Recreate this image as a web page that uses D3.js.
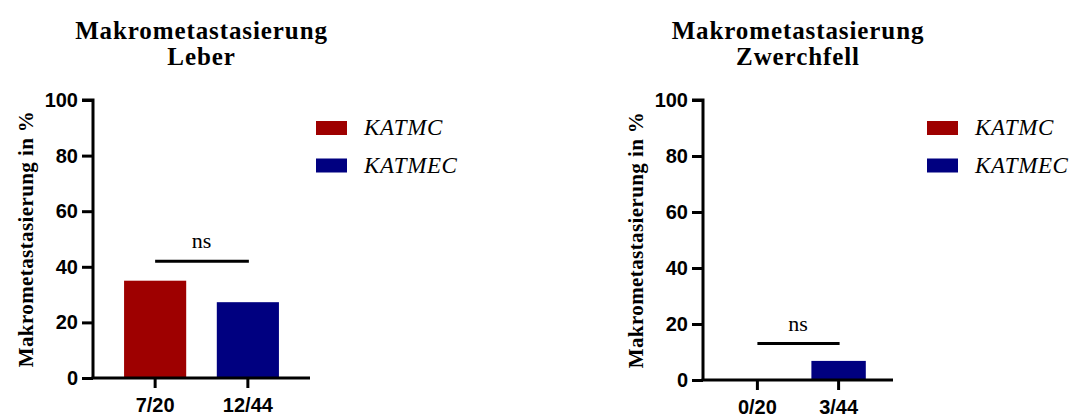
<!DOCTYPE html>
<html>
<head>
<meta charset="utf-8">
<script src="https://cdn.jsdelivr.net/npm/d3@7"></script>
<style>
  html, body { margin: 0; padding: 0; background: #fff; }
  svg { display: block; }
</style>
</head>
<body>
<svg id="chart" width="1075" height="417"></svg>
<script>
// Data
const groups = ["KATMC", "KATMEC"];
const leberLabels = ["7/20", "12/44"];
const leberValues = [35, 27.27];
const zwerchfellLabels = ["0/20", "3/44"];
const zwerchfellValues = [0, 6.82];
const yTicks = [0, 20, 40, 60, 80, 100];
const sigLabel = "ns";
const leberSigLevel = 42;
const zwerchfellSigLevel = 13;
const colors = ["#9e0000", "#000080"];

const svg = d3.select("#chart");
svg.append("rect").attr("width", 1075).attr("height", 417).attr("fill", "#fff");

const serif = "'Liberation Serif', 'Times New Roman', serif";
const sans = "'Liberation Sans', Arial, sans-serif";

function panel(opt) {
  const g = svg.append("g");
  const x = d3.scaleBand()
    .domain(opt.labels)
    .range([opt.x0, opt.x1])
    .paddingInner(0.33)
    .paddingOuter(0.335);
  const y = d3.scaleLinear().domain([0, 100]).range([opt.yZero, 100]);

  // bars
  g.selectAll("rect.bar")
    .data(opt.values)
    .join("rect")
    .attr("class", "bar")
    .attr("x", (d, i) => x(opt.labels[i]))
    .attr("width", x.bandwidth())
    .attr("y", d => y(d))
    .attr("height", d => y(0) - y(d))
    .attr("fill", (d, i) => colors[i]);

  // y axis
  const ya = g.append("g")
    .attr("transform", `translate(${opt.x0},0)`)
    .call(d3.axisLeft(y).tickValues(yTicks).tickSize(11).tickPadding(4));
  ya.select(".domain").attr("stroke", "#000").attr("stroke-width", 3)
    .attr("d", `M-11,${y(100)}H0V${y(0)}`);
  ya.selectAll(".tick line").attr("stroke", "#000").attr("stroke-width", 3);
  ya.selectAll(".tick text")
    .attr("fill", "#000")
    .style("font-family", sans).style("font-weight", "bold").style("font-size", "20px");

  // x axis
  const xa = g.append("g")
    .attr("transform", `translate(0,${opt.yZero})`)
    .call(d3.axisBottom(x).tickSize(10).tickPadding(10).tickSizeOuter(0));
  xa.select(".domain").attr("stroke", "#000").attr("stroke-width", 3)
    .attr("d", `M${opt.x0 - 1.5},0H${opt.x1}`);
  xa.selectAll(".tick line").attr("stroke", "#000").attr("stroke-width", 3);
  xa.selectAll(".tick text")
    .attr("fill", "#000")
    .style("font-family", sans).style("font-weight", "bold").style("font-size", "20px");

  // significance bracket
  const cx0 = x(opt.labels[0]) + x.bandwidth() / 2;
  const cx1 = x(opt.labels[1]) + x.bandwidth() / 2;
  g.append("line")
    .attr("x1", cx0).attr("x2", cx1 + 1)
    .attr("y1", y(opt.sig)).attr("y2", y(opt.sig))
    .attr("stroke", "#000").attr("stroke-width", 3);
  g.append("text")
    .attr("x", (cx0 + cx1) / 2)
    .attr("y", y(opt.sig) - 13)
    .attr("text-anchor", "middle")
    .style("font-family", serif).style("font-size", "22px")
    .text(sigLabel);

  // title
  const t = g.append("text")
    .attr("x", (opt.x0 + opt.x1) / 2)
    .attr("text-anchor", "middle")
    .style("font-family", serif).style("font-weight", "bold")
    .style("font-size", "25px").style("letter-spacing", "0.9px");
  t.append("tspan").attr("x", (opt.x0 + opt.x1) / 2).attr("y", 39).text("Makrometastasierung");
  t.append("tspan").attr("x", (opt.x0 + opt.x1) / 2).attr("y", 65).text(opt.title);

  // y axis title
  g.append("text")
    .attr("transform", `translate(${opt.x0 - 60},${(y(0) + y(100)) / 2}) rotate(-90)`)
    .attr("text-anchor", "middle")
    .style("font-family", serif).style("font-weight", "bold")
    .style("font-size", "21px").style("letter-spacing", "0.4px")
    .text("Makrometastasierung in %");

  // legend
  const lg = g.append("g").attr("transform", `translate(${opt.legendX},0)`);
  groups.forEach((name, i) => {
    const yy = 121 + i * 37.5;
    lg.append("rect")
      .attr("x", 0).attr("y", yy).attr("width", 31).attr("height", 14)
      .attr("fill", colors[i]);
    lg.append("text")
      .attr("x", 48).attr("y", yy + 14)
      .style("font-family", serif).style("font-style", "italic")
      .style("font-size", "23px").style("letter-spacing", "0.6px")
      .text(name);
  });
}

panel({
  labels: leberLabels, values: leberValues, sig: leberSigLevel,
  title: "Leber", x0: 93, x1: 310, yZero: 378, legendX: 316
});
panel({
  labels: zwerchfellLabels, values: zwerchfellValues, sig: zwerchfellSigLevel,
  title: "Zwerchfell", x0: 703, x1: 893, yZero: 380, legendX: 927
});
</script>
</body>
</html>
